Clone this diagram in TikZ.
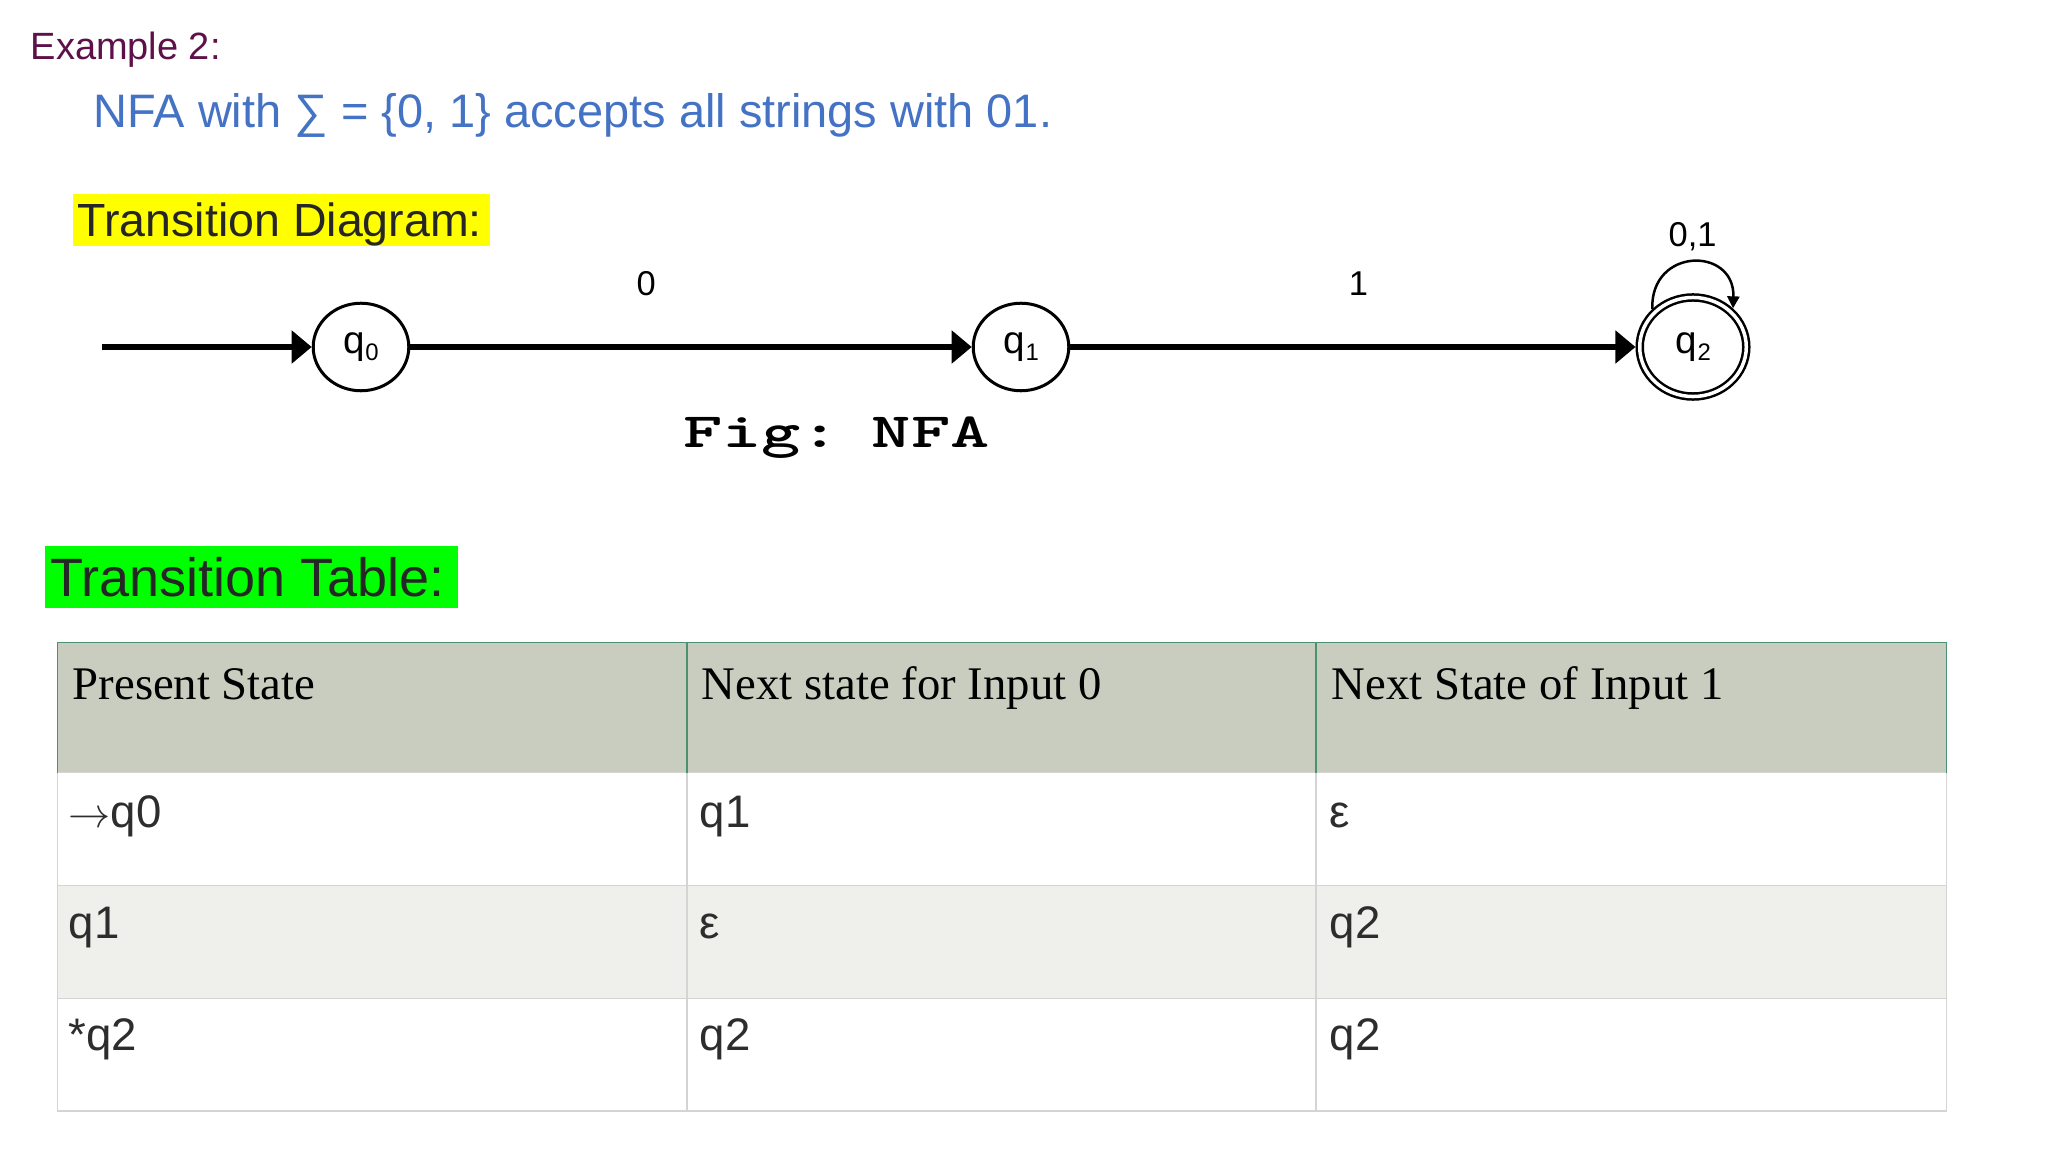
\documentclass[tikz,border=0pt]{standalone}
\usepackage{fontspec}
\setmainfont{Liberation Sans}
\newfontfamily\hdrfont{Liberation Serif}
\usepackage{tikz}
\usetikzlibrary{arrows.meta,positioning,shapes.geometric}

\definecolor{exmaroon}{RGB}{94,17,72}
\definecolor{nfablue}{RGB}{68,114,196}
\definecolor{hilite}{RGB}{255,255,0}
\definecolor{hilitegreen}{RGB}{0,255,0}
\definecolor{darktext}{RGB}{38,38,38}
\definecolor{headfill}{RGB}{201,205,192}
\definecolor{headline}{RGB}{76,145,112}
\definecolor{rowfill}{RGB}{239,239,235}
\definecolor{gridgray}{RGB}{212,212,212}
\definecolor{celltext}{RGB}{45,45,45}

\newcommand{\pxfont}[1]{\fontsize{#1pt}{#1pt}\selectfont}
\newcommand{\stq}[1]{q\kern0.02em\raisebox{-2pt}{\pxfont{6.8}#1}}

\tikzset{
  stnode/.style={ellipse, draw, line width=0.03cm, minimum width=0.955cm, minimum height=0.875cm, inner sep=0, font=\pxfont{11}},
  acceptnode/.style={stnode, double, double distance=0.035cm, line width=0.025cm, minimum width=1.065cm, minimum height=0.99cm, outer sep=0.0425cm},
  trans/.style={line width=0.06cm, -{Triangle[length=0.2cm,width=0.32cm]}},
  selfloop/.style={line width=0.025cm, -{Triangle[length=0.12cm,width=0.12cm]}},
  edgelabel/.style={inner sep=0, font=\pxfont{9.8}},
  plaintext/.style={anchor=base west, inner sep=0},
  hdrcell/.style={plaintext, font=\hdrfont\pxfont{13.29}},
  bodycell/.style={plaintext, text=celltext, font=\pxfont{12.97}},
}

\begin{document}
\begin{tikzpicture}[x=0.01cm,y=-0.01cm]
\fill[white] (0,0) rectangle (2048,1152);
\useasboundingbox (0,0) rectangle (2048,1152);

\node[plaintext, text=exmaroon, font=\pxfont{10.8}] (example) at (30,60) {Example 2:};
\node[plaintext, text=nfablue, font=\pxfont{13.35}] (nfaline) at (93,128) {NFA with ∑ = \{0, 1\} accepts all strings with 01.};
\node[plaintext, fill=hilite, text=darktext, font=\pxfont{13.23}, inner xsep=0.05cm, text height=0.43cm, text depth=0.09cm] (diaghead) at (72,237) {Transition Diagram:\kern0.03cm};

\coordinate (start) at (102,347);
\node[stnode] (q0) at (361,347) {\stq{0}};
\node[stnode] (q1) at (1021,347) {\stq{1}};
\node[acceptnode] (q2) at (1693,347) {\stq{2}};
\draw[trans] (start) -- (q0);
\draw[trans] (q0) -- node[edgelabel, pos=0.42, above=0.48cm] (lbl0) {0} (q1);
\draw[trans] (q1) -- node[edgelabel, pos=0.51, above=0.48cm] (lbl1) {1} (q2);
\draw[selfloop] (q2.137) .. controls +(-0.02cm,0.62cm) and +(0.02cm,0.62cm) .. (q2.44) node[edgelabel, pos=0.5, above=0.1cm] (lbl01) {0,1};
\node[plaintext, xscale=1.52, transform shape, font=\ttfamily\bfseries\pxfont{14}] (figcap) at (682,448) {Fig:\kern-0.1em\ NFA};

\node[plaintext, fill=hilitegreen, text=darktext, font=\pxfont{15.36}, inner xsep=0.05cm, text height=0.507cm, text depth=0.11cm] (tabhead) at (44.6,596.7) {Transition Table:\kern0.08cm};

\draw[fill=headfill, draw=none] (57.5,642.7) rectangle (1946.5,772.7);
\draw[fill=rowfill, draw=none] (57.5,885.7) rectangle (1946.5,998.3);
\draw[gridgray, line width=0.015cm] (57.5,772.7) rectangle (1946.5,1111);
\draw[gridgray, line width=0.015cm] (57.5,885.7) -- (1946.5,885.7);
\draw[gridgray, line width=0.015cm] (57.5,998.3) -- (1946.5,998.3);
\draw[gridgray, line width=0.015cm] (687,772.7) -- (687,1111);
\draw[gridgray, line width=0.015cm] (1316,772.7) -- (1316,1111);
\draw[headline, line width=0.015cm] (57.5,772.7) -- (57.5,642.7) -- (1946.5,642.7) -- (1946.5,772.7);
\draw[headline, line width=0.015cm] (687,642.7) -- (687,772.7);
\draw[headline, line width=0.015cm] (1316,642.7) -- (1316,772.7);

\node[hdrcell] (h1) at (72,699) {Present State};
\node[hdrcell] (h2) at (701,699) {Next state for Input 0};
\node[hdrcell] (h3) at (1331,699) {Next State of Input 1};
\node[bodycell] (r1c1) at (68,827) {$\rightarrow$q0};
\node[bodycell] (r1c2) at (699,827) {q1};
\node[bodycell] (r1c3) at (1329,827) {ε};
\node[bodycell] (r2c1) at (68,938) {q1};
\node[bodycell] (r2c2) at (699,938) {ε};
\node[bodycell] (r2c3) at (1329,938) {q2};
\node[bodycell] (r3c1) at (68,1050) {*q2};
\node[bodycell] (r3c2) at (699,1050) {q2};
\node[bodycell] (r3c3) at (1329,1050) {q2};
\end{tikzpicture}
\end{document}
